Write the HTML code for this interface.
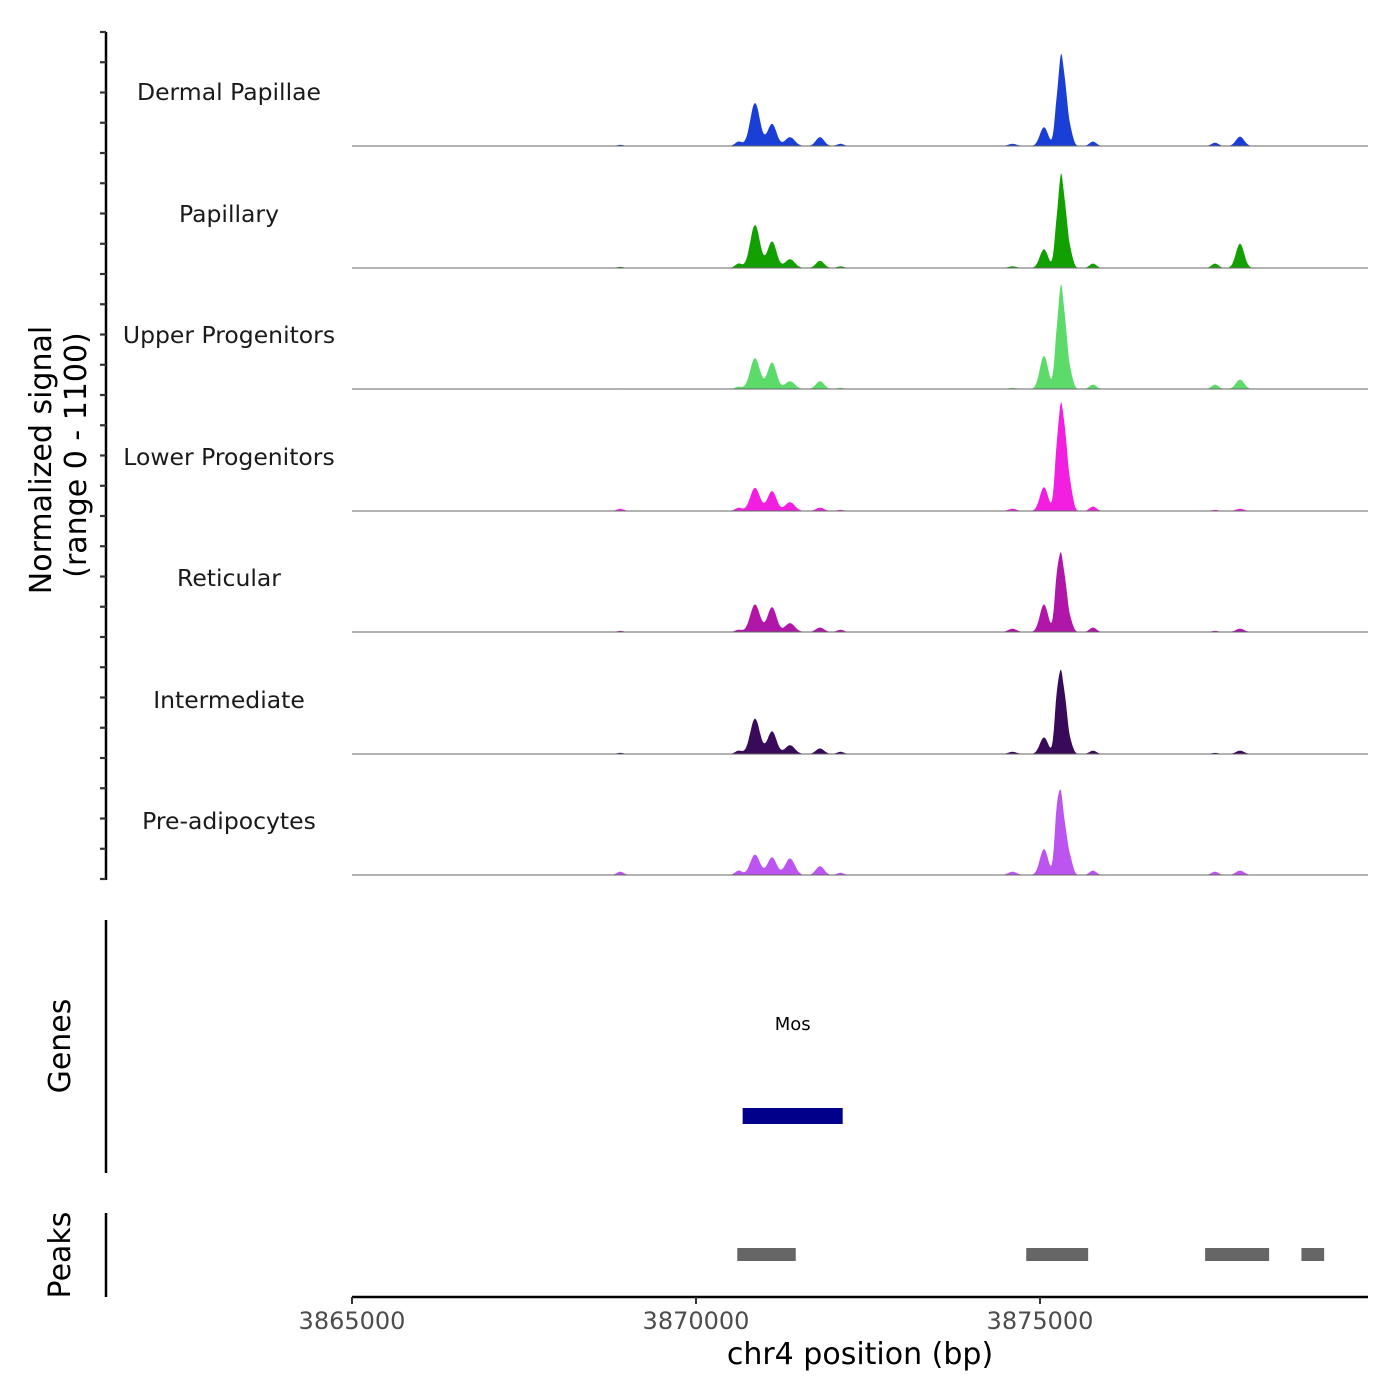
<!DOCTYPE html>
<html><head><meta charset="utf-8"><style>
body{margin:0;background:#fff;}
svg{display:block;font-family:"DejaVu Sans","Liberation Sans",sans-serif;}
</style></head><body>
<svg id="chart" width="1400" height="1400" xmlns="http://www.w3.org/2000/svg"></svg>
<script>
const trackNames = ["Dermal Papillae","Papillary","Upper Progenitors","Lower Progenitors","Reticular","Intermediate","Pre-adipocytes"];
const trackColors = ["#1a3fd6","#12a000","#5cdb6a","#f21ee0","#b016a8","#3a0a5a","#bc55f0"];
const peakPositions = [3868900,3870620,3870858,3871105,3871366,3871802,3872100,3874600,3875058,3875247,3875305,3875363,3875436,3875770,3877544,3877907];
const peakWidths = [50,50,70,65,70,60,50,60,60,35,30,35,40,50,50,60];
const sigDermal = [10,40,390,200,80,80,20,20,170,380,620,480,150,40,30,85];
const sigPapillary = [10,40,390,240,80,65,15,15,170,400,640,470,150,40,40,220];
const sigUpper = [5,20,280,240,70,70,10,10,300,480,700,520,150,40,40,85];
const sigLower = [20,30,210,180,80,30,10,20,215,540,700,600,220,40,10,20];
const sigReticular = [10,20,250,225,80,40,20,30,250,480,500,400,110,40,10,30];
const sigIntermediate = [10,30,320,205,80,50,20,20,150,500,530,430,110,30,10,30];
const sigPreadipo = [30,40,185,160,150,80,20,30,235,570,530,360,150,40,30,40];
const signals = [sigDermal,sigPapillary,sigUpper,sigLower,sigReticular,sigIntermediate,sigPreadipo];
const xTicks = [3865000,3870000,3875000];
const geneName = "Mos";
const geneStart = 3870678, geneEnd = 3872132;
const peakStarts = [3870600,3874800,3877400,3878800];
const peakEnds = [3871450,3875700,3878330,3879130];

const NS="http://www.w3.org/2000/svg";
const svg=document.getElementById('chart');
function el(t,a,p){const e=document.createElementNS(NS,t);for(const k in a)e.setAttribute(k,a[k]);(p||svg).appendChild(e);return e;}
const X0=352,X1=1368,B0=3865000,PX=344/5000;
const xs=b=>X0+(b-B0)*PX;
const BMAX=B0+(X1-X0)/PX;
const trackH=121.5, maxSig=1100;
const baselines=[146,268,389,511,632,754,875];

signals.forEach((sig,ti)=>{
  const base=baselines[ti];
  const ys=v=>base-v/maxSig*trackH;
  let d=`M${X0},${base}`;
  for(let b=B0;b<=BMAX;b+=15){
    let v=0;
    for(let i=0;i<peakPositions.length;i++){const z=(b-peakPositions[i])/peakWidths[i];v+=sig[i]*Math.exp(-z*z/2);}
    d+=`L${xs(b).toFixed(1)},${ys(v).toFixed(1)}`;
  }
  d+=`L${X1},${base}Z`;
  const p=el('path',{d,fill:trackColors[ti]});
  
  
  const l=el('line',{x1:X0,x2:X1,y1:base,y2:base,stroke:'#666','stroke-width':1});
  
  
  const t=el('text',{x:229,y:base-46,'text-anchor':'middle','font-size':23.5,fill:'#1a1a1a'});
  t.textContent=trackNames[ti];
  
  
});

let a=el('line',{x1:106,x2:106,y1:32,y2:880,stroke:'#000','stroke-width':2.5});

for(let y=32;y<=880;y+=30.25){const tk=el('line',{x1:100,x2:106,y1:y,y2:y,stroke:'#333','stroke-width':2.2});}
a=el('line',{x1:106,x2:106,y1:920,y2:1173,stroke:'#000','stroke-width':2.5});

a=el('line',{x1:106,x2:106,y1:1213,y2:1297,stroke:'#000','stroke-width':2.5});


let t=el('text',{transform:'translate(51,460) rotate(-90)','text-anchor':'middle','font-size':30,fill:'#000'});
t.textContent='Normalized signal';
t=el('text',{transform:'translate(86,455) rotate(-90)','text-anchor':'middle','font-size':30,fill:'#000'});
t.textContent='(range 0 - 1100)';
t=el('text',{transform:'translate(70,1046) rotate(-90)','text-anchor':'middle','font-size':30,fill:'#000'});
t.textContent='Genes';
t=el('text',{transform:'translate(70,1255) rotate(-90)','text-anchor':'middle','font-size':30,fill:'#000'});
t.textContent='Peaks';

t=el('text',{x:(xs(geneStart)+xs(geneEnd))/2,y:1030,'text-anchor':'middle','font-size':18,fill:'#000'});
t.textContent=geneName;
let r=el('rect',{x:xs(geneStart),y:1108,width:xs(geneEnd)-xs(geneStart),height:16,fill:'#00008b'});


peakStarts.forEach((s,i)=>{
  const pr=el('rect',{x:xs(s),y:1248,width:xs(peakEnds[i])-xs(s),height:13,fill:'#666'});
  
  
});

a=el('line',{x1:X0,x2:X1,y1:1297,y2:1297,stroke:'#000','stroke-width':2.5});

xTicks.forEach(v=>{
  const tk=el('line',{x1:xs(v),x2:xs(v),y1:1297,y2:1304,stroke:'#333','stroke-width':2});
  
  
  const tl=el('text',{x:xs(v),y:1329,'text-anchor':'middle','font-size':24,fill:'#4d4d4d'});
  tl.textContent=v;
  
  
});
t=el('text',{x:860,y:1364,'text-anchor':'middle','font-size':30,fill:'#000'});
t.textContent='chr4 position (bp)';
</script>
</body></html>
